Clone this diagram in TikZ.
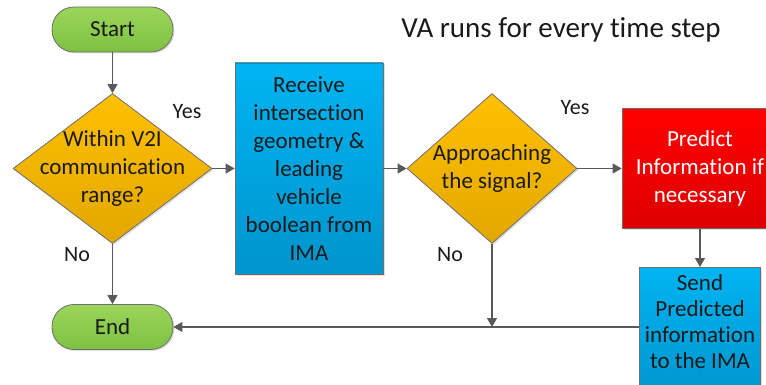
\documentclass[tikz,border=0pt]{standalone}
\usepackage{fontspec}
\setmainfont{Carlito}[Ligatures=NoCommon,Contextuals=NoAlternate]
\usetikzlibrary{shapes.geometric,arrows.meta,shadows}
\definecolor{bordergray}{HTML}{6E6E6E}
\definecolor{linegray}{HTML}{595959}
\definecolor{gtop}{HTML}{9BD55A}
\definecolor{gbot}{HTML}{7DC142}
\definecolor{otop}{HTML}{FFC000}
\definecolor{obot}{HTML}{E2A700}
\definecolor{btop}{HTML}{00B4F2}
\definecolor{bbot}{HTML}{0094CC}
\definecolor{rtop}{HTML}{FF0000}
\definecolor{rbot}{HTML}{DD0000}
\definecolor{txtc}{HTML}{1A1A1A}
\begin{document}
\begin{tikzpicture}[x=1pt,y=-1pt,
  base/.style={draw=bordergray, line width=0.8pt,
    drop shadow={shadow xshift=1.5pt,shadow yshift=-1.5pt,opacity=0.25}},
  bodyfont/.style={font=\fontsize{23}{28}\selectfont, text=txtc},
  term/.style={base, rectangle, rounded corners=22pt, minimum width=121pt,
    minimum height=45pt, top color=gtop, bottom color=gbot, bodyfont},
  dia/.style={base, diamond, inner sep=0pt, top color=otop, bottom color=obot},
  proc/.style={base, rectangle, inner sep=0pt, top color=btop, bottom color=bbot,
    bodyfont, align=center},
  pred/.style={base, rectangle, inner sep=0pt, top color=rtop, bottom color=rbot,
    font=\fontsize{23}{28}\selectfont, text=white, align=center},
  txt/.style={bodyfont, align=center, inner sep=0pt},
  lbl/.style={font=\fontsize{22}{26}\selectfont, text=txtc, inner sep=0pt},
  arr/.style={draw=linegray, line width=1.1pt, -{Triangle[length=9pt,width=10pt]}},
  ln/.style={draw=linegray, line width=1.1pt}
]
\useasboundingbox (0,0) rectangle (766,385);
\begin{scope}
\clip (0,0) rectangle (766,385);
\node[term] (start) at (112.5,29.5) {Start};
\node[dia, minimum width=199pt, minimum height=150pt] (d1) at (112.5,168.5) {};
\node[txt] (d1t) at (112.5,168.5) {Within V2I\\communication\\range?};
\node[proc, minimum width=148pt, minimum height=211pt] (b1) at (309,168.5)
  {Receive\\intersection\\geometry \&\\leading\\vehicle\\boolean from\\IMA};
\node[dia, minimum width=170pt, minimum height=150pt] (d2) at (492,168.5) {};
\node[txt] (d2t) at (492,168) {Approaching\\the signal?};
\node[pred, minimum width=156pt, minimum height=120pt] (pr) at (700,168.5)
  {Predict\\Information if\\necessary};
\node[proc, minimum width=121pt, minimum height=135pt, anchor=north] (b2) at (700,267) {};
\node[txt, font=\fontsize{23}{26}\selectfont] (b2t) at (700,322)
  {Send\\Predicted\\information\\to the IMA};
\node[term] (end) at (112.5,327) {End};
\node[font=\fontsize{29}{34}\selectfont, text=txtc] (title) at (561,30) {VA runs for every time step};
\node[lbl] (y1) at (187,112) {Yes};
\node[lbl] (n1) at (77,255) {No};
\node[lbl] (y2) at (575,108) {Yes};
\node[lbl] (n2) at (450,255) {No};
\draw[arr] (start) -- (d1);
\draw[arr] (d1.east) -- (b1.west);
\draw[arr] (b1.east) -- (d2.west);
\draw[arr] (d2.east) -- (pr.west);
\draw[arr] (pr) -- (b2);
\draw[arr] (d1) -- (end);
\draw[arr] (b2.west |- end.east) -- (end.east);
\coordinate (j) at (d2.south |- end.east);
\draw[arr] (d2.south) -- (j);
\end{scope}
\end{tikzpicture}
\end{document}
